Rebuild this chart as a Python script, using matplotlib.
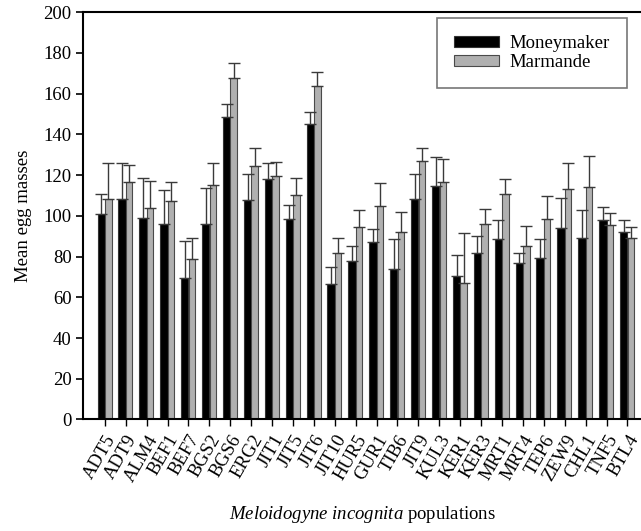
import matplotlib
matplotlib.use("Agg")
import matplotlib.pyplot as plt
import numpy as np

plt.rcParams["font.family"] = "Liberation Serif"
plt.rcParams["mathtext.fontset"] = "custom"
plt.rcParams["mathtext.rm"] = "Liberation Serif"
plt.rcParams["mathtext.it"] = "Liberation Serif:italic"

populations = ["ADT5", "ADT9", "ALM4", "BEF1", "BEF7", "BGS2", "BGS6", "ERG2",
               "JIT1", "JIT5", "JIT6", "JIT10", "HUR5", "GUR1", "TIB6", "JIT9",
               "KUL3", "KER1", "KER3", "MRT1", "MRT4", "TEP6", "ZEW9", "CHL1",
               "TNF5", "BTL4"]

# mean egg masses per cultivar
moneymaker = [100.7, 108.4, 98.8, 96.2, 69.6, 95.8, 148.4, 108.0,
              117.9, 98.3, 145.1, 66.3, 77.6, 87.3, 73.7, 108.4,
              114.6, 70.3, 81.6, 88.8, 76.8, 79.3, 93.9, 89.1,
              97.9, 92.0]
marmande = [108.4, 116.6, 103.7, 107.3, 79.0, 115.3, 167.9, 124.5,
            119.4, 110.2, 163.9, 81.6, 94.7, 104.7, 92.2, 127.1,
            116.5, 67.2, 95.8, 110.7, 85.3, 98.3, 113.4, 114.1,
            95.6, 88.9]

# standard errors (upper whisker only)
moneymaker_se = [9.8, 17.4, 19.6, 16.3, 18.0, 17.9, 6.6, 12.4,
                 8.1, 6.9, 6.1, 8.5, 7.4, 6.2, 14.8, 12.0,
                 14.5, 10.3, 8.3, 9.0, 5.1, 9.5, 14.7, 13.6,
                 6.6, 5.9]
marmande_se = [17.6, 8.4, 13.3, 9.2, 10.3, 10.7, 7.3, 8.8,
               7.2, 8.6, 6.8, 7.3, 8.0, 11.3, 9.8, 6.1,
               11.4, 24.2, 7.7, 7.2, 9.5, 11.4, 12.7, 15.1,
               5.6, 5.4]

x = np.arange(len(populations))
n = len(populations)

fig = plt.figure(figsize=(6.41, 5.31), dpi=100)
ax = fig.add_axes([0.130, 0.210, 0.870, 0.767])

w_black = 0.35
w_gray = 0.31
err_kw = dict(ecolor="#3a3a3a", elinewidth=1.0, capsize=4.5, capthick=1.0)

ax.bar(x - w_black / 2, moneymaker, width=w_black, color="black",
       edgecolor="#333333", linewidth=0.8, label="Moneymaker",
       yerr=[np.zeros(n), moneymaker_se], error_kw=err_kw)
ax.bar(x + w_gray / 2 + 0.01, marmande, width=w_gray, color="#b0b0b0",
       edgecolor="#4a4a4a", linewidth=0.8, label="Marmande",
       yerr=[np.zeros(n), marmande_se], error_kw=err_kw)

ax.set_ylim(0, 200)
ax.set_yticks(np.arange(0, 201, 20))
ax.set_xlim(-1.03, 25.65)
ax.set_xticks(x)
ax.set_xticklabels(populations, rotation=60, ha="right",
                   rotation_mode="anchor", fontsize=13.5)
ax.tick_params(axis="y", labelsize=13.5, direction="out", length=5,
               width=1.2, colors="black")
ax.tick_params(axis="x", direction="out", length=5, width=1.0, pad=4)

ax.spines["right"].set_visible(False)
for side in ["left", "bottom", "top"]:
    ax.spines[side].set_linewidth(1.5)

ax.set_ylabel("Mean egg masses", fontsize=13.5, labelpad=8)
ax.set_xlabel(r"$\mathit{Meloidogyne\ incognita}$ populations",
              fontsize=13.5)
ax.xaxis.set_label_coords(0.5, -0.207)

leg = ax.legend(loc="upper right", bbox_to_anchor=(0.975, 0.985),
                fontsize=13.5, frameon=True, fancybox=False,
                edgecolor="#555555", handlelength=2.4, handleheight=0.55,
                borderpad=0.9, labelspacing=0.1, handletextpad=0.6,
                borderaxespad=0)
leg.get_frame().set_linewidth(1.2)

fig.savefig("out.png", dpi=100)
